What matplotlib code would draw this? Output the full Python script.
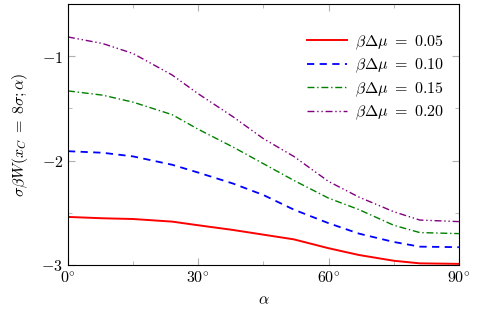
import numpy as np
import matplotlib
matplotlib.use('Agg')
import matplotlib.pyplot as plt
from matplotlib.ticker import MultipleLocator

plt.rcParams['mathtext.fontset'] = 'cm'
plt.rcParams['font.family'] = 'serif'
plt.rcParams['font.serif'] = ['DejaVu Serif']

# angle in degrees
alpha = [0, 8, 15, 24, 30, 38, 45, 52, 60, 67, 75, 81, 90]

# sigma*beta*W at x_C = 8 sigma, one list per beta*Delta mu
w_005 = [-2.54, -2.553, -2.56, -2.585, -2.62, -2.665, -2.71, -2.755, -2.84, -2.905, -2.96, -2.985, -2.99]
w_010 = [-1.91, -1.925, -1.96, -2.04, -2.115, -2.22, -2.33, -2.47, -2.60, -2.70, -2.78, -2.825, -2.83]
w_015 = [-1.332, -1.373, -1.44, -1.56, -1.70, -1.87, -2.03, -2.19, -2.36, -2.47, -2.62, -2.69, -2.70]
w_020 = [-0.815, -0.878, -0.974, -1.18, -1.36, -1.58, -1.79, -1.96, -2.20, -2.35, -2.49, -2.57, -2.585]

labels = ['0.05', '0.10', '0.15', '0.20']

fig = plt.figure(figsize=(4.82, 3.15), dpi=100)
ax = fig.add_axes([0.141, 0.159, 0.811, 0.828])

ax.plot(alpha, w_005, color='red', lw=1.4, ls='-', label=r'$\beta\Delta\mu\ =\ %s$' % labels[0])
ax.plot(alpha, w_010, color='blue', lw=1.3, ls=(0, (4, 3)), label=r'$\beta\Delta\mu\ =\ %s$' % labels[1])
ax.plot(alpha, w_015, color='green', lw=1.0, ls=(0, (5, 2, 1, 2)), label=r'$\beta\Delta\mu\ =\ %s$' % labels[2])
ax.plot(alpha, w_020, color='purple', lw=1.0, ls=(0, (5, 2, 1, 2, 1, 2)), label=r'$\beta\Delta\mu\ =\ %s$' % labels[3])

ax.set_xlim(0, 90)
ax.set_ylim(-3, -0.5)
ax.xaxis.set_minor_locator(MultipleLocator(15))
ax.yaxis.set_minor_locator(MultipleLocator(0.5))
ax.set_xticks([0, 30, 60, 90])
ax.set_xticklabels([r'$0^{\circ}$', r'$30^{\circ}$', r'$60^{\circ}$', r'$90^{\circ}$'])
ax.set_yticks([-3, -2, -1])
ax.set_yticklabels([r'$-3$', r'$-2$', r'$-1$'])

ax.tick_params(which='both', direction='in', top=True, right=True, color='#b0b0b0', labelsize=11.5)
ax.tick_params(which='major', length=5)
ax.tick_params(which='minor', length=3)
for s in ax.spines.values():
    s.set_linewidth(0.8)

ax.set_xlabel(r'$\alpha$', fontsize=11.5, labelpad=3)
ax.set_ylabel(r'$\sigma\beta W(x_C\;=\;8\sigma;\alpha)$', fontsize=11.5, labelpad=8)

ax.legend(loc='upper right', bbox_to_anchor=(1.0, 0.945), frameon=False, fontsize=11.5,
          handlelength=2.5, handletextpad=0.5, labelspacing=0.3)

plt.savefig('out.png', dpi=100)
